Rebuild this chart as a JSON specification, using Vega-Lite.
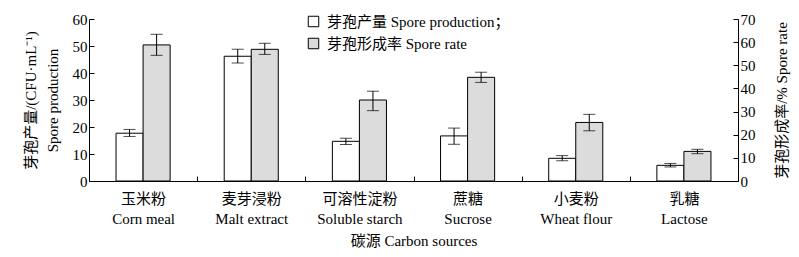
{
  "$schema": "https://vega.github.io/schema/vega-lite/v6.json",
  "width": 649,
  "height": 162,
  "autosize": {"type": "none"},
  "padding": {"left": 89, "top": 19, "right": 61, "bottom": 76},
  "background": "white",
  "config": {
    "font": "Liberation Serif, Noto Sans CJK SC",
    "view": {"stroke": null},
    "axis": {
      "domainColor": "black",
      "tickColor": "black",
      "labelColor": "black",
      "titleColor": "black",
      "labelFont": "Liberation Serif, Noto Sans CJK SC",
      "titleFont": "Liberation Serif, Noto Sans CJK SC",
      "labelFontSize": 15,
      "titleFontSize": 15,
      "titleFontWeight": "normal",
      "grid": false
    },
    "legend": {
      "labelFont": "Liberation Serif, Noto Sans CJK SC",
      "labelFontSize": 15,
      "labelColor": "black",
      "labelLimit": 0
    }
  },
  "data": {
    "values": [
      {"cat": "玉米粉\nCorn meal", "series": "芽孢产量 Spore production；", "value": 17.7, "lo": 16.5, "hi": 19.1},
      {"cat": "麦芽浸粉\nMalt extract", "series": "芽孢产量 Spore production；", "value": 46.2, "lo": 43.7, "hi": 48.8},
      {"cat": "可溶性淀粉\nSoluble starch", "series": "芽孢产量 Spore production；", "value": 14.7, "lo": 13.5, "hi": 15.8},
      {"cat": "蔗糖\nSucrose", "series": "芽孢产量 Spore production；", "value": 16.7, "lo": 13.6, "hi": 19.6},
      {"cat": "小麦粉\nWheat flour", "series": "芽孢产量 Spore production；", "value": 8.4, "lo": 7.5, "hi": 9.4},
      {"cat": "乳糖\nLactose", "series": "芽孢产量 Spore production；", "value": 5.8, "lo": 5.2, "hi": 6.5},
      {"cat": "玉米粉\nCorn meal", "series": "芽孢形成率 Spore rate", "value": 58.8, "lo": 54.3, "hi": 63.4},
      {"cat": "麦芽浸粉\nMalt extract", "series": "芽孢形成率 Spore rate", "value": 56.9, "lo": 54.7, "hi": 59.5},
      {"cat": "可溶性淀粉\nSoluble starch", "series": "芽孢形成率 Spore rate", "value": 35.0, "lo": 30.4, "hi": 38.8},
      {"cat": "蔗糖\nSucrose", "series": "芽孢形成率 Spore rate", "value": 44.8, "lo": 42.6, "hi": 47.0},
      {"cat": "小麦粉\nWheat flour", "series": "芽孢形成率 Spore rate", "value": 25.3, "lo": 21.7, "hi": 28.8},
      {"cat": "乳糖\nLactose", "series": "芽孢形成率 Spore rate", "value": 12.8, "lo": 11.8, "hi": 13.7}
    ]
  },
  "encoding": {
    "x": {
      "field": "cat",
      "type": "nominal",
      "sort": null,
      "scale": {"paddingInner": 0, "paddingOuter": 0},
      "axis": {
        "title": "碳源 Carbon sources",
        "labelAngle": 0,
        "labelExpr": "split(datum.label, '\\n')",
        "labelLineHeight": 20,
        "labelPadding": 15,
        "tickBand": "extent",
        "tickSize": -5,
        "titlePadding": 7
      }
    },
    "xOffset": {
      "field": "series",
      "type": "nominal",
      "scale": {"domain": ["芽孢产量 Spore production；", "芽孢形成率 Spore rate"], "paddingInner": 0, "paddingOuter": 1}
    }
  },
  "layer": [
    {
      "transform": [{"filter": "datum.series === '芽孢产量 Spore production；'"}],
      "encoding": {
        "y": {
          "field": "value",
          "type": "quantitative",
          "scale": {"domain": [0, 60]},
          "axis": {
            "orient": "left",
            "values": [0, 10, 20, 30, 40, 50, 60],
            "title": ["芽孢产量/(CFU·mL⁻¹)", "Spore production"],
            "titleLineHeight": 22,
            "tickSize": -5,
            "labelPadding": 7,
            "titlePadding": 12
          }
        }
      },
      "layer": [
        {
          "mark": {"type": "bar", "stroke": "black", "strokeWidth": 1},
          "encoding": {
            "fill": {
              "field": "series",
              "type": "nominal",
              "scale": {"domain": ["芽孢产量 Spore production；", "芽孢形成率 Spore rate"], "range": ["white", "#dcdcdc"]},
              "legend": {
                "title": null,
                "orient": "none",
                "legendX": 217,
                "legendY": -5,
                "symbolType": "square",
                "symbolSize": 110,
                "symbolStrokeColor": "black",
                "symbolStrokeWidth": 1,
                "symbolOpacity": 1,
                "rowPadding": 6,
                "labelOffset": 6
              }
            }
          }
        },
        {
          "mark": {"type": "rule", "color": "black", "strokeWidth": 1},
          "encoding": {"y": {"field": "lo", "type": "quantitative"}, "y2": {"field": "hi"}}
        },
        {
          "mark": {"type": "tick", "color": "black", "thickness": 1, "size": 12, "orient": "horizontal"},
          "encoding": {"y": {"field": "lo", "type": "quantitative"}}
        },
        {
          "mark": {"type": "tick", "color": "black", "thickness": 1, "size": 12, "orient": "horizontal"},
          "encoding": {"y": {"field": "hi", "type": "quantitative"}}
        }
      ]
    },
    {
      "transform": [{"filter": "datum.series === '芽孢形成率 Spore rate'"}],
      "encoding": {
        "y": {
          "field": "value",
          "type": "quantitative",
          "scale": {"domain": [0, 70]},
          "axis": {
            "orient": "right",
            "values": [0, 10, 20, 30, 40, 50, 60, 70],
            "title": "芽孢形成率/%  Spore rate",
            "titleAngle": 270,
            "tickSize": -5,
            "labelPadding": 7,
            "titlePadding": 34
          }
        }
      },
      "layer": [
        {
          "mark": {"type": "bar", "stroke": "black", "strokeWidth": 1},
          "encoding": {
            "fill": {"field": "series", "type": "nominal"}
          }
        },
        {
          "mark": {"type": "rule", "color": "black", "strokeWidth": 1},
          "encoding": {"y": {"field": "lo", "type": "quantitative"}, "y2": {"field": "hi"}}
        },
        {
          "mark": {"type": "tick", "color": "black", "thickness": 1, "size": 12, "orient": "horizontal"},
          "encoding": {"y": {"field": "lo", "type": "quantitative"}}
        },
        {
          "mark": {"type": "tick", "color": "black", "thickness": 1, "size": 12, "orient": "horizontal"},
          "encoding": {"y": {"field": "hi", "type": "quantitative"}}
        }
      ]
    }
  ],
  "resolve": {"scale": {"y": "independent"}}
}
